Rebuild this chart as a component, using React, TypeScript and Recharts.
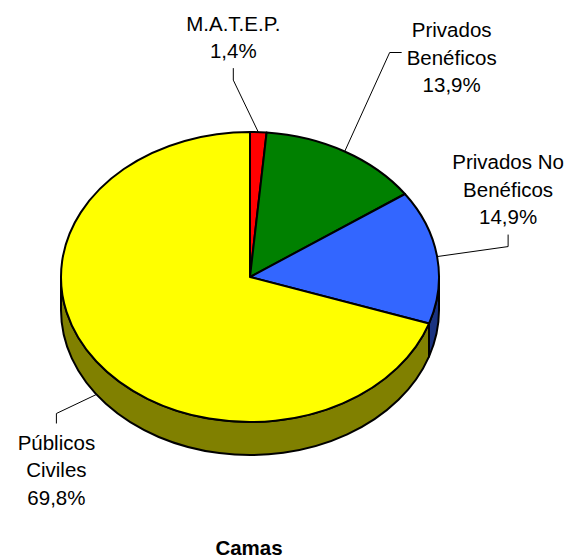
import { PieChart, Pie } from "recharts";

const categories = ["M.A.T.E.P.", "Privados Benéficos", "Privados No Benéficos", "Públicos Civiles"];
const labelLines = [["M.A.T.E.P."], ["Privados", "Benéficos"], ["Privados No", "Benéficos"], ["Públicos", "Civiles"]];
const values = [1.4, 13.9, 14.9, 69.8];
const percentLabels = ["1,4%", "13,9%", "14,9%", "69,8%"];
const topColors = ["#ff0000", "#008000", "#3366ff", "#ffff00"];
const sideColors = ["#800000", "#004000", "#1a3380", "#808000"];

const data = categories.map((name, i) => ({
  name,
  value: values[i],
  fill: topColors[i],
  side: sideColors[i],
}));

// tilt of the 3d pie
const RATIO = 145 / 189;
const DEPTH = 33;
const FONT = "'Liberation Sans', Arial, sans-serif";

// label placement, relative to the anchor point on the rim: elbow, stub end, text
const labelLayout = [
  { elbow: [-25, -52], stub: [-25, -64], text: [-25, -109], onSide: false },
  { elbow: [45, -99], stub: [57, -99], text: [107, -122], onSide: false },
  { elbow: [71, -10], stub: [71, -22], text: [71, -95], onSide: false },
  { elbow: [-40, 19], stub: [-40, 29], text: [-40, 48], onSide: true },
];

const pt = (cx: number, cy: number, r: number, deg: number, dy = 0) => {
  const a = (deg * Math.PI) / 180;
  return [cx + r * Math.cos(a), cy + dy - r * RATIO * Math.sin(a)];
};

const TopFace = (props: any) => {
  const { cx, cy, outerRadius, startAngle, endAngle, fill } = props;
  const [x1, y1] = pt(cx, cy, outerRadius, startAngle);
  const [x2, y2] = pt(cx, cy, outerRadius, endAngle);
  const large = Math.abs(startAngle - endAngle) > 180 ? 1 : 0;
  const sweep = startAngle > endAngle ? 1 : 0;
  const d = `M${cx},${cy} L${x1},${y1} A${outerRadius},${outerRadius * RATIO} 0 ${large} ${sweep} ${x2},${y2} Z`;
  return <path d={d} fill={fill} stroke="#000" strokeWidth={2} strokeLinejoin="round" />;
};

const SideWall = (props: any) => {
  const { cx, cy, outerRadius, startAngle, endAngle } = props;
  const color = props.side ?? props.payload?.side ?? sideColors[props.index ?? 0];
  const lo = Math.min(startAngle, endAngle);
  const hi = Math.max(startAngle, endAngle);
  const ry = outerRadius * RATIO;
  const paths: string[] = [];
  for (let k = -2; k <= 2; k++) {
    const l = Math.max(lo, -180 + 360 * k);
    const h = Math.min(hi, 360 * k);
    if (h <= l) continue;
    const [ax, ay] = pt(cx, cy, outerRadius, h);
    const [bx, by] = pt(cx, cy, outerRadius, l);
    const [cx2, cy2] = pt(cx, cy, outerRadius, l, DEPTH);
    const [dx, dy] = pt(cx, cy, outerRadius, h, DEPTH);
    paths.push(
      `M${ax},${ay} A${outerRadius},${ry} 0 0 1 ${bx},${by} L${cx2},${cy2} A${outerRadius},${ry} 0 0 0 ${dx},${dy} Z`
    );
  }
  return (
    <g>
      {paths.map((d, i) => (
        <path key={i} d={d} fill={color} stroke="#000" strokeWidth={2} strokeLinejoin="round" />
      ))}
    </g>
  );
};

const renderLabel = (props: any) => {
  const { cx, cy, outerRadius, midAngle, index } = props;
  const layout = labelLayout[index];
  const [ax, ay] = pt(cx, cy, outerRadius, midAngle, layout.onSide ? DEPTH : 0);
  const ex = ax + layout.elbow[0];
  const ey = ay + layout.elbow[1];
  const sx = ax + layout.stub[0];
  const sy = ay + layout.stub[1];
  const tx = ax + layout.text[0];
  const ty = ay + layout.text[1];
  const lines = [...labelLines[index], percentLabels[index]];
  return (
    <g key={`lbl-${index}`}>
      <polyline points={`${ax},${ay} ${ex},${ey} ${sx},${sy}`} fill="none" stroke="#000" strokeWidth={1} />
      {lines.map((t, i) => (
        <text
          key={i}
          x={tx}
          y={ty + i * 27.5}
          textAnchor="middle"
          dominantBaseline="central"
          fontFamily={FONT}
          fontSize={20.5}
          fill="#000"
        >
          {t}
        </text>
      ))}
    </g>
  );
};

const App = () => {
  return (
    <div style={{ position: "absolute", left: 0, top: 0, width: 571, height: 559, background: "#fff" }}>
      <PieChart width={571} height={559} margin={{ top: 0, right: 0, bottom: 0, left: 0 }}>
        {/* side walls first, then the top faces */}
        <Pie
          data={data}
          dataKey="value"
          nameKey="name"
          cx={250}
          cy={277}
          outerRadius={189}
          startAngle={90}
          endAngle={-270}
          shape={SideWall}
          labelLine={false}
          isAnimationActive={false}
        />
        <Pie
          data={data}
          dataKey="value"
          nameKey="name"
          cx={250}
          cy={277}
          outerRadius={189}
          startAngle={90}
          endAngle={-270}
          shape={TopFace}
          label={renderLabel}
          labelLine={false}
          isAnimationActive={false}
        />
      </PieChart>
      <div
        style={{
          position: "absolute",
          left: 0,
          top: 536,
          width: 498,
          textAlign: "center",
          fontFamily: FONT,
          fontWeight: "bold",
          fontSize: 20.5,
          lineHeight: "24px",
        }}
      >
        Camas
      </div>
    </div>
  );
};

export default App;
